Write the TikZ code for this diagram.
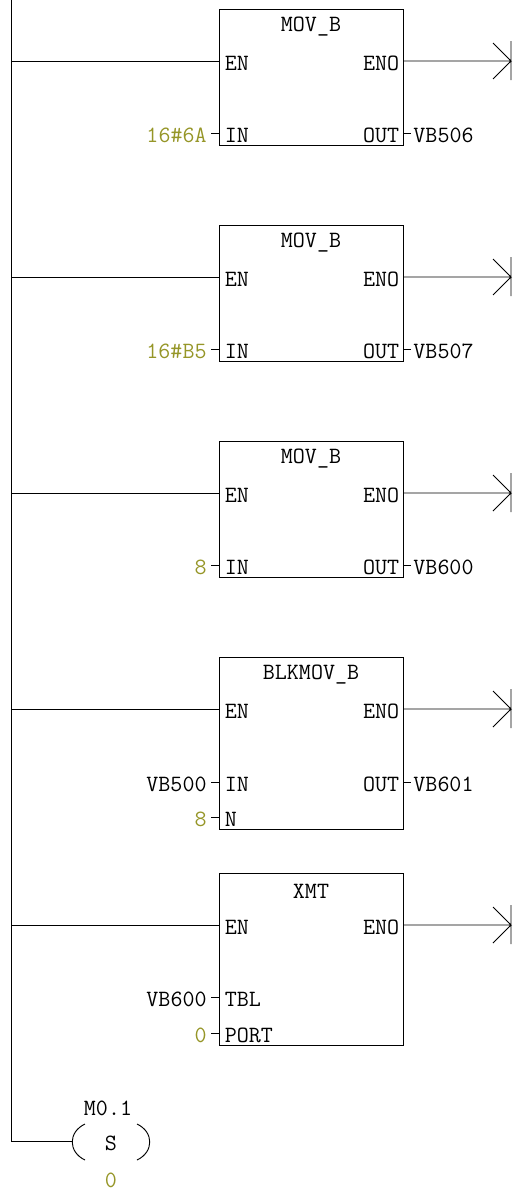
\documentclass[tikz,border=0pt]{standalone}
\usepackage{fontspec}
\usepackage{tikz}
\usetikzlibrary{calc}
\definecolor{konst}{RGB}{150,150,40}

\begin{document}
\begin{tikzpicture}[x=0.75pt, y=-0.75pt, line width=0.7pt,
		box/.style={draw, minimum width=138pt, inner sep=0pt},
		lbl/.style={font=\ttfamily\fontsize{17.5}{17.5}\selectfont, inner sep=1pt},
		title/.style={lbl},
		pinl/.style={lbl, anchor=west, xshift=3pt, yshift=-2pt},
		pinr/.style={lbl, anchor=east, xshift=-1.5pt, yshift=-2pt},
		opnd/.style={lbl, anchor=east, xshift=-2pt, yshift=-2pt},
		cst/.style={opnd, text=konst},
		res/.style={lbl, anchor=west, xshift=0.5pt, yshift=-2pt}]
	\useasboundingbox (0,0) rectangle (513,1192);
	
	% power rail
	\coordinate (top) at (11,0);
	\coordinate (bot) at (11,1141);
	\draw (top) -- (bot);
	
	% rung 1
	\node[box, minimum height=102pt] (B1) at (311,77) {};
	\node[title] at (311,27) {MOV\_B};
	\coordinate (B1en) at (219,61);
	\coordinate (B1in) at (219,133);
	\coordinate (B1eno) at (403,61);
	\coordinate (B1out) at (403,133);
	\coordinate (B1end) at (511,61);
	\node[pinl] at (B1en) {EN};
	\node[pinl] at (B1in) {IN};
	\node[pinr] at (B1eno) {ENO};
	\node[pinr] at (B1out) {OUT};
	\draw (top |- B1en) -- (B1en);
	\draw (B1in) -- ++(-8,0) node[cst] (k1) {16\#6A};
	\draw (B1out) -- ++(8,0) node[res] (v1) {VB506};
	\draw (B1eno) -- (B1end) -- ++(-18,-18) (B1end) -- ++(-18,18) (B1end) ++(0,-20) -- ++(0,39);
	
	% rung 2
	\node[box, minimum height=102pt] (B2) at (311,293) {};
	\node[title] at (311,243) {MOV\_B};
	\coordinate (B2en) at (219,277);
	\coordinate (B2in) at (219,349);
	\coordinate (B2eno) at (403,277);
	\coordinate (B2out) at (403,349);
	\coordinate (B2end) at (511,277);
	\node[pinl] at (B2en) {EN};
	\node[pinl] at (B2in) {IN};
	\node[pinr] at (B2eno) {ENO};
	\node[pinr] at (B2out) {OUT};
	\draw (top |- B2en) -- (B2en);
	\draw (B2in) -- ++(-8,0) node[cst] (k2) {16\#B5};
	\draw (B2out) -- ++(8,0) node[res] (v2) {VB507};
	\draw (B2eno) -- (B2end) -- ++(-18,-18) (B2end) -- ++(-18,18) (B2end) ++(0,-20) -- ++(0,39);
	
	% rung 3
	\node[box, minimum height=102pt] (B3) at (311,509) {};
	\node[title] at (311,459) {MOV\_B};
	\coordinate (B3en) at (219,493);
	\coordinate (B3in) at (219,565);
	\coordinate (B3eno) at (403,493);
	\coordinate (B3out) at (403,565);
	\coordinate (B3end) at (511,493);
	\node[pinl] at (B3en) {EN};
	\node[pinl] at (B3in) {IN};
	\node[pinr] at (B3eno) {ENO};
	\node[pinr] at (B3out) {OUT};
	\draw (top |- B3en) -- (B3en);
	\draw (B3in) -- ++(-8,0) node[cst] (k3) {8};
	\draw (B3out) -- ++(8,0) node[res] (v3) {VB600};
	\draw (B3eno) -- (B3end) -- ++(-18,-18) (B3end) -- ++(-18,18) (B3end) ++(0,-20) -- ++(0,39);
	
	% rung 4
	\node[box, minimum height=129pt] (B4) at (311,743) {};
	\node[title] at (311,675) {BLKMOV\_B};
	\coordinate (B4en) at (219,709);
	\coordinate (B4in) at (219,782);
	\coordinate (B4n) at (219,817);
	\coordinate (B4eno) at (403,709);
	\coordinate (B4out) at (403,782);
	\coordinate (B4end) at (511,709);
	\node[pinl] at (B4en) {EN};
	\node[pinl] at (B4in) {IN};
	\node[pinl] at (B4n) {N};
	\node[pinr] at (B4eno) {ENO};
	\node[pinr] at (B4out) {OUT};
	\draw (top |- B4en) -- (B4en);
	\draw (B4in) -- ++(-8,0) node[opnd] (k4) {VB500};
	\draw (B4n) -- ++(-8,0) node[cst] (k5) {8};
	\draw (B4out) -- ++(8,0) node[res] (v4) {VB601};
	\draw (B4eno) -- (B4end) -- ++(-18,-18) (B4end) -- ++(-18,18) (B4end) ++(0,-20) -- ++(0,39);
	
	% rung 5
	\node[box, minimum height=129pt] (B5) at (311,959) {};
	\node[title] at (311,891) {XMT};
	\coordinate (B5en) at (219,925);
	\coordinate (B5tbl) at (219,997);
	\coordinate (B5port) at (219,1033);
	\coordinate (B5eno) at (403,925);
	\coordinate (B5end) at (511,925);
	\node[pinl] at (B5en) {EN};
	\node[pinl] at (B5tbl) {TBL};
	\node[pinl] at (B5port) {PORT};
	\node[pinr] at (B5eno) {ENO};
	\draw (top |- B5en) -- (B5en);
	\draw (B5tbl) -- ++(-8,0) node[opnd] (k6) {VB600};
	\draw (B5port) -- ++(-8,0) node[cst] (k7) {0};
	\draw (B5eno) -- (B5end) -- ++(-18,-18) (B5end) -- ++(-18,18) (B5end) ++(0,-20) -- ++(0,39);
	
	% rung 6: set coil
	\node[lbl] (coil) at (111,1143) {S};
	\node[lbl] (coiladr) at (108,1108) {M0.1};
	\node[lbl, text=konst] (coiln) at (111,1180) {0};
	\coordinate (coilL) at (72,1141);
	\draw (bot) -- (coilL);
	\draw (85,1124) .. controls (68,1132) and (68,1152) .. (85,1160);
	\draw (137,1124) .. controls (154,1132) and (154,1152) .. (137,1160);
\end{tikzpicture}
\end{document}
